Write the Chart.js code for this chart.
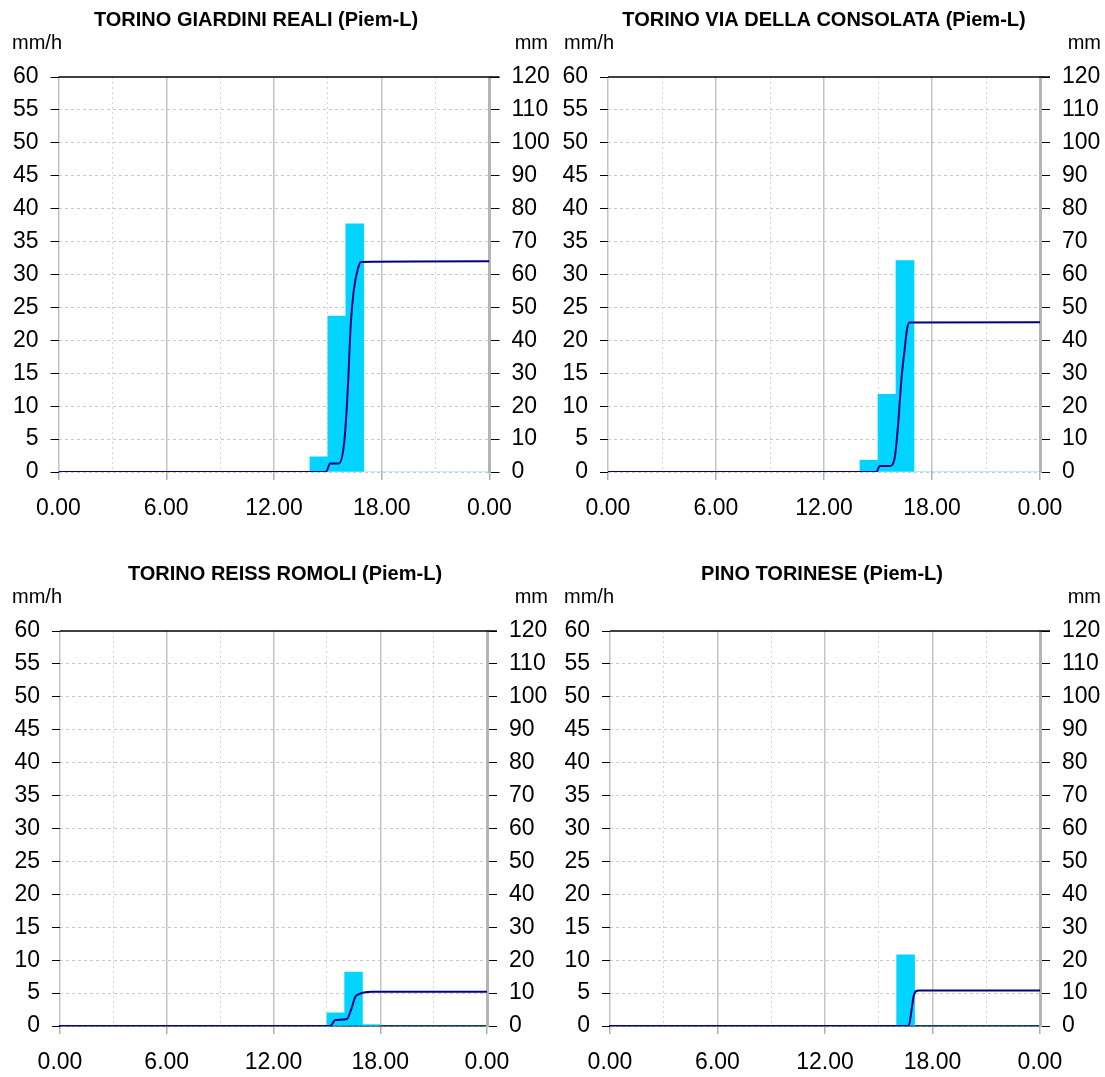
<!DOCTYPE html>
<html>
<head>
<meta charset="utf-8">
<script src="https://cdn.jsdelivr.net/npm/chart.js@4/dist/chart.umd.min.js"></script>
<style>
  html, body { margin: 0; padding: 0; background: #fff; }
  #wrap { position: relative; width: 1105px; height: 1077px; }
  canvas { position: absolute; }
</style>
</head>
<body>
<div id="wrap">
  <canvas id="c0" width="552" height="554" style="left:0;top:0"></canvas>
  <canvas id="c1" width="553" height="554" style="left:552px;top:0"></canvas>
  <canvas id="c2" width="552" height="523" style="left:0;top:554px"></canvas>
  <canvas id="c3" width="553" height="523" style="left:552px;top:554px"></canvas>
</div>
<script>
/* global Chart:false */
var hourLabels = ['0','1','2','3','4','5','6','7','8','9','10','11','12','13','14','15','16','17','18','19','20','21','22','23'];
var xTickText = ['0.00', '6.00', '12.00', '18.00', '0.00'];
var stationNames = ['TORINO GIARDINI REALI (Piem-L)', 'TORINO VIA DELLA CONSOLATA (Piem-L)',
  'TORINO REISS ROMOLI (Piem-L)', 'PINO TORINESE (Piem-L)'];

// hourly rain, mm/h
var giardiniHourly  = [0,0,0,0,0,0,0,0,0,0,0,0,0,0,2.3,23.7,37.7,0,0,0,0,0,0,0];
var consolataHourly = [0,0,0,0,0,0,0,0,0,0,0,0,0,0,1.8,11.8,32.1,0,0,0,0,0,0,0];
var reissHourly     = [0,0,0,0,0,0,0,0,0,0,0,0,0,0,0,2.0,8.2,0.2,0,0,0,0,0,0];
var pinoHourly      = [0,0,0,0,0,0,0,0,0,0,0,0,0,0,0,0,10.8,0,0,0,0,0,0,0];

// cumulated rain, mm (time in hours)
var giardiniCumTime  = [0, 14.89, 15.13, 15.61, 15.91, 16.1, 16.28, 16.45, 16.66, 16.84, 24];
var giardiniCum      = [0, 0, 2.6, 2.6, 9.0, 24.2, 45.4, 55.5, 61.5, 63.8, 64.0];
var consolataCumTime = [0, 14.91, 15.09, 15.65, 15.93, 16.11, 16.3, 16.48, 16.61, 16.76, 24];
var consolataCum     = [0, 0, 1.8, 1.8, 4.4, 13.9, 28.1, 37.2, 43.3, 45.4, 45.5];
var reissCumTime     = [0, 15.19, 15.47, 16.12, 16.4, 16.59, 16.78, 17.02, 17.58, 24];
var reissCum         = [0, 0, 1.8, 2.1, 5.6, 8.8, 9.6, 10.1, 10.4, 10.4];
var pinoCumTime      = [0, 16.67, 16.85, 16.95, 17.08, 17.23, 24];
var pinoCum          = [0, 0, 5.6, 9.1, 10.6, 10.8, 10.8];

(function () {
  'use strict';

  var FONT = '"Liberation Sans", Arial, sans-serif';
  var TOP = 77, BOTTOM = 472;

  var panels = [
    {id: 'c0', title: stationNames[0], titleX: 256, left: 58.5, right: 489.5, bottomLine: false,
      hourly: giardiniHourly, cumTime: giardiniCumTime, cum: giardiniCum},
    {id: 'c1', title: stationNames[1], titleX: 272, left: 56, right: 488, bottomLine: false,
      hourly: consolataHourly, cumTime: consolataCumTime, cum: consolataCum},
    {id: 'c2', title: stationNames[2], titleX: 285, left: 60, right: 487, bottomLine: true,
      hourly: reissHourly, cumTime: reissCumTime, cum: reissCum},
    {id: 'c3', title: stationNames[3], titleX: 270, left: 58, right: 488, bottomLine: true,
      hourly: pinoHourly, cumTime: pinoCumTime, cum: pinoCum}
  ];

  panels.forEach(makeChart);

  function makeChart(p) {
    var canvas = document.getElementById(p.id);
    var W = canvas.width, H = canvas.height;

    var points = p.cumTime.map(function (t, i) { return {x: t, y: p.cum[i]}; });

    // titles, units and the black top frame line
    var decor = {
      id: 'decor',
      afterDraw: function (chart) {
        var ctx = chart.ctx, a = chart.chartArea;
        ctx.save();
        ctx.strokeStyle = '#000';
        ctx.lineWidth = 1.5;
        ctx.beginPath();
        ctx.moveTo(a.left, a.top);
        ctx.lineTo(a.right + 10, a.top);
        ctx.stroke();
        ctx.fillStyle = '#000';
        ctx.textBaseline = 'middle';
        ctx.font = 'bold 20px ' + FONT;
        ctx.textAlign = 'center';
        ctx.fillText(p.title, p.titleX, 20);
        ctx.font = '20px ' + FONT;
        ctx.textAlign = 'left';
        ctx.fillText('mm/h', 12, 43);
        ctx.textAlign = 'right';
        ctx.fillText('mm', W - 4, 43);
        ctx.restore();
      }
    };

    new Chart(canvas, {
      type: 'bar',
      data: {
        labels: hourLabels,
        datasets: [{
          type: 'line',
          data: points,
          xAxisID: 'xl',
          yAxisID: 'y2',
          borderColor: '#000080',
          borderWidth: 2,
          pointRadius: 0,
          cubicInterpolationMode: 'monotone',
          order: 0
        }, {
          data: p.hourly,
          xAxisID: 'xb',
          yAxisID: 'y',
          backgroundColor: '#00d4ff',
          borderWidth: 0,
          grouped: false,
          barPercentage: 1,
          categoryPercentage: 1,
          order: 1
        }]
      },
      options: {
        responsive: false,
        animation: false,
        events: [],
        layout: {padding: {top: TOP, left: 0, right: 0, bottom: 0}},
        plugins: {legend: {display: false}, tooltip: {enabled: false}, title: {display: false}},
        scales: {
          xb: {type: 'category', display: false, offset: true},
          xm: {
            type: 'linear', position: 'top', min: 0, max: 24, offset: false,
            ticks: {display: false, stepSize: 3},
            grid: {
              offset: false, drawTicks: false, lineWidth: 1,
              color: function (c) { return c.tick && c.tick.value % 6 === 0 ? 'rgba(0,0,0,0)' : '#d4d4d4'; }
            },
            border: {display: false, dash: [2, 3]}
          },
          xl: {
            type: 'linear', position: 'bottom', min: 0, max: 24, offset: false,
            afterFit: function (s) { s.height = H - BOTTOM; },
            ticks: {
              stepSize: 6, autoSkip: false, maxRotation: 0, padding: 15,
              color: '#000', font: {family: FONT, size: 23},
              callback: function (v) { return xTickText[v / 6]; }
            },
            grid: {offset: false, color: '#c4c4c4', lineWidth: 1.5, tickLength: 8, tickColor: '#b0b0b0'},
            border: {display: p.bottomLine, color: '#000', width: 1.5}
          },
          y: {
            position: 'left', min: 0, max: 60,
            afterFit: function (s) { s.width = p.left; },
            ticks: {stepSize: 5, padding: 12, color: '#000', font: {family: FONT, size: 23}},
            grid: {
              lineWidth: 1, tickLength: 8, tickColor: '#000', tickWidth: 1,
              color: function (c) { return c.tick && c.tick.value === 60 ? 'rgba(0,0,0,0)' : '#c8c8c8'; }
            },
            border: {display: false, dash: [3, 3]}
          },
          y2: {
            position: 'right', min: 0, max: 120,
            afterFit: function (s) { s.width = W - p.right; },
            ticks: {stepSize: 10, padding: 12, color: '#000', font: {family: FONT, size: 23}},
            grid: {drawOnChartArea: false, tickLength: 10, tickColor: '#000', tickWidth: 1},
            border: {color: '#b4b4b4', width: 3}
          }
        }
      },
      plugins: [decor]
    });
  }
}());
</script>
</body>
</html>
